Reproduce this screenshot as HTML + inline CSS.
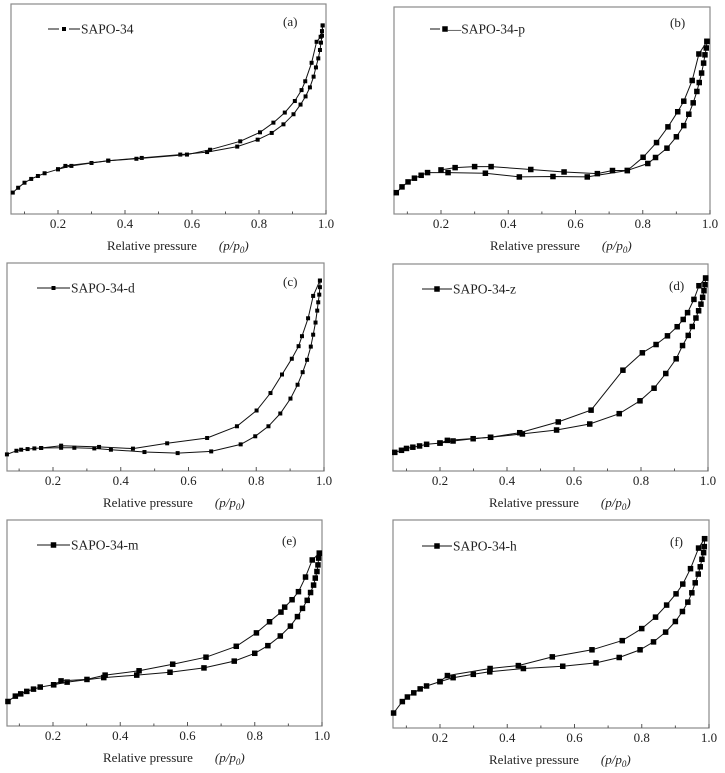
<!DOCTYPE html>
<html><head><meta charset="utf-8"><style>
html,body{margin:0;padding:0;background:#fff;}
svg{display:block;font-family:"Liberation Serif","DejaVu Serif",serif;}
svg text{font-family:"Liberation Serif","DejaVu Serif",serif;fill:#222;}
</style></head><body>
<svg id="fig" width="725" height="773" viewBox="0 0 725 773" font-family="Liberation Serif, serif" xmlns="http://www.w3.org/2000/svg"></svg>
<script>
// x values = relative pressure; y values = relative adsorbed amount (0-100 of plot height)
const aAdsX=[0.065,0.081,0.1,0.12,0.14,0.16,0.2,0.24,0.3,0.35,0.45,0.565,0.645,0.735,0.796,0.838,0.873,0.903,0.924,0.939,0.952,0.963,0.97,0.977,0.982,0.985,0.988,0.99];
const aAdsY=[10.2,12.5,14.9,16.7,18.1,19.4,21.3,22.9,24.3,25.4,26.7,28.3,29.5,32.1,35.4,38.6,42.7,47.5,52.1,56.0,60.3,65.4,69.8,74.1,78.1,81.6,84.9,89.8];
const aDesX=[0.99,0.988,0.984,0.972,0.957,0.938,0.927,0.907,0.877,0.843,0.803,0.744,0.654,0.585,0.434,0.35,0.222,0.2];
const aDesY=[89.8,87.1,84.4,82,72,63.2,59,53.8,48.3,43.5,38.9,34.6,30.6,28.3,26.3,25.4,22.9,21.3];

const bAdsX=[0.067,0.084,0.102,0.121,0.141,0.16,0.221,0.332,0.433,0.533,0.635,0.754,0.815,0.838,0.872,0.9,0.922,0.937,0.95,0.961,0.968,0.975,0.981,0.985,0.989,0.991];
const bAdsY=[10.3,13.1,15.5,17.3,18.7,20,20,19.7,17.9,18.1,17.9,21,24.4,27.3,31.8,37.3,42.7,48.2,53.7,59.2,63.5,68.1,72.9,76.9,80.2,83.4];
const bDesX=[0.991,0.967,0.947,0.922,0.904,0.875,0.841,0.801,0.754,0.71,0.665,0.566,0.467,0.349,0.3,0.242,0.2];
const bDesY=[83.4,77.3,64.5,54.5,49.4,42.1,34.5,27.4,21,21,19.5,20.3,21.5,22.9,22.9,22.4,21.3];

const cAdsX=[0.064,0.092,0.106,0.125,0.145,0.165,0.224,0.263,0.322,0.371,0.47,0.568,0.667,0.754,0.797,0.836,0.871,0.901,0.922,0.937,0.95,0.961,0.968,0.975,0.98,0.983,0.986,0.988,0.988];
const cAdsY=[7.8,9.5,10,10.3,10.6,10.8,10.9,10.9,10.6,10,8.9,8.4,9.2,12.5,16.3,21,27,34,40.5,46.4,52.2,58.4,64,69.7,75.3,79.2,82.8,86.3,89.4];
const cDesX=[0.988,0.968,0.953,0.935,0.925,0.905,0.876,0.842,0.801,0.743,0.655,0.537,0.436,0.336,0.224,0.165];
const cDesY=[89.4,82.2,71.7,63.3,58.6,52.7,45.3,36.6,28.4,21,15.5,13,10.5,11.3,11.9,10.8];

const dAdsX=[0.065,0.085,0.1,0.119,0.139,0.16,0.2,0.239,0.299,0.351,0.446,0.548,0.647,0.735,0.797,0.839,0.874,0.905,0.924,0.941,0.953,0.964,0.972,0.979,0.984,0.988,0.991,0.993];
const dAdsY=[9,10,10.9,11.5,12.1,12.9,13.5,14.5,15.6,16.3,17.9,19.8,22.7,27.7,33.9,40,47.1,54.2,60.6,65.5,69.8,73.9,77.4,80.6,83.9,87.1,90,93.2];
const dDesX=[0.993,0.973,0.958,0.939,0.926,0.908,0.879,0.845,0.804,0.746,0.651,0.553,0.438,0.351,0.222,0.2];
const dDesY=[93.2,89.5,82.9,76.5,73.2,69.7,65.3,61.1,57.1,48.7,29.4,23.7,18.5,16.3,14.8,13.5];

const eAdsX=[0.066,0.088,0.104,0.122,0.142,0.162,0.202,0.242,0.351,0.449,0.548,0.649,0.739,0.8,0.839,0.876,0.906,0.927,0.942,0.956,0.966,0.975,0.98,0.985,0.988,0.99,0.992];
const eAdsY=[11.9,14.5,15.6,16.8,17.9,18.9,20,21.3,23.5,24.7,26.1,28.2,31.5,35.3,39,43.7,48.5,53.1,57.1,61,64.8,68.4,71.8,75,78.2,81.5,83.9];
const eDesX=[0.992,0.971,0.951,0.93,0.911,0.889,0.878,0.844,0.805,0.745,0.655,0.556,0.456,0.355,0.301,0.224,0.202];
const eDesY=[83.9,80.6,72.3,65.2,61.3,57.7,55.3,50.6,45.2,38.7,33.4,30,26.8,24.7,22.6,21.9,20];

const fAdsX=[0.062,0.088,0.103,0.122,0.141,0.16,0.2,0.239,0.299,0.348,0.448,0.565,0.664,0.733,0.795,0.835,0.871,0.9,0.921,0.937,0.949,0.959,0.968,0.974,0.979,0.984,0.986,0.987];
const fAdsY=[7.2,12.7,14.9,16.9,18.8,20.2,22.3,24.2,25.8,27,28.6,29.7,31.3,33.9,37.6,41.4,46.1,51.2,56,60.5,65,69.8,74,77.5,81.1,84.3,87.2,91];
const fDesX=[0.987,0.969,0.945,0.922,0.902,0.874,0.841,0.8,0.742,0.652,0.534,0.433,0.349,0.222,0.2];
const fDesY=[91,86.5,76.6,69.2,64.5,59.1,53.3,47.8,42,37.6,34.2,30,28.6,25.2,22.3];

const tickLabels=["0.2","0.4","0.6","0.8","1.0"];
const tickValues=[0.2,0.4,0.6,0.8,1.0];
const minorValues=[0.1,0.3,0.5,0.7,0.9];

const NS="http://www.w3.org/2000/svg";
const FONT='"Liberation Serif", "DejaVu Serif", serif';
const svg=document.getElementById('fig');
function mk(tag,attrs,parent){const e=document.createElementNS(NS,tag);for(const k in attrs)e.setAttribute(k,attrs[k]);if(tag==='text'){e.setAttribute('font-family','Liberation Serif, serif');e.style.fontFamily=FONT;}(parent||svg).appendChild(e);return e;}

const panels=[
 {id:'a',L:11,R:326,T:4,B:214,dT:4,x02:58,x10:326,ms:4,lg:[48,80,29],tag:[283,26],ax:[aAdsX,aAdsY],de:[aDesX,aDesY],lgText:'SAPO-34',gap:true},
 {id:'b',L:394,R:710,T:7,B:214,dT:7,x02:441,x10:710,ms:5.5,lg:[430,460,29],tag:[670,27],ax:[bAdsX,bAdsY],de:[bDesX,bDesY],lgText:'—SAPO-34-p',gap:true},
 {id:'c',L:7,R:324,T:263,B:471,dT:258,x02:53,x10:324,ms:4,lg:[37,70,288],tag:[283,286],ax:[cAdsX,cAdsY],de:[cDesX,cDesY],lgText:'SAPO-34-d'},
 {id:'d',L:393,R:708,T:264,B:471,dT:264,x02:440,x10:708,ms:5.5,lg:[422,452,289],tag:[669,290],ax:[dAdsX,dAdsY],de:[dDesX,dDesY],lgText:'SAPO-34-z'},
 {id:'e',L:7,R:322,T:520,B:726,dT:520,x02:53,x10:322,ms:5.5,lg:[37,70,545],tag:[282,545],ax:[eAdsX,eAdsY],de:[eDesX,eDesY],lgText:'SAPO-34-m'},
 {id:'f',L:393,R:709,T:520,B:728,dT:520,x02:440,x10:709,ms:5.5,lg:[422,452,546],tag:[670,546],ax:[fAdsX,fAdsY],de:[fDesX,fDesY],lgText:'SAPO-34-h'}
];

panels.forEach(p=>{
  const g=mk('g',{});
  
  
  const sx=v=>p.x02+(v-0.2)/0.8*(p.x10-p.x02);
  const sy=v=>p.B-v/100*(p.B-p.dT);
  const fr=mk('rect',{x:p.L,y:p.T,width:p.R-p.L,height:p.B-p.T,fill:'none',stroke:'#8a8a8a','stroke-width':1.2},g);
  
  
  tickValues.forEach((v,i)=>{
    const x=sx(v);
    const t=mk('line',{x1:x,x2:x,y1:p.B,y2:p.B-4,stroke:'#555','stroke-width':1},g);
    
    
    const lb=mk('text',{x:x,y:p.B+14,'text-anchor':'middle','font-size':13},g);
    lb.textContent=tickLabels[i];
    
    
  });
  minorValues.forEach(v=>{
    const x=sx(v); if(x<p.L)return;
    const t=mk('line',{x1:x,x2:x,y1:p.B,y2:p.B-2.5,stroke:'#555','stroke-width':1},g);
    
    
  });
  const tt=mk('text',{x:p.L+96,y:p.B+36,'font-size':13},g);
  tt.innerHTML='Relative pressure<tspan dx="22" font-style="italic">(p/p</tspan><tspan font-style="italic" font-size="9" dy="3">0</tspan><tspan dy="-3" font-style="italic">)</tspan>';
  
  
  [[p.ax,'adsorption'],[p.de,'desorption']].forEach(([s,nm])=>{
    const pts=s[0].map((x,i)=>sx(x).toFixed(1)+','+sy(s[1][i]).toFixed(1)).join(' ');
    const pl=mk('polyline',{points:pts,fill:'none',stroke:'#111','stroke-width':1},g);
    
    
    s[0].forEach((x,i)=>{
      const r=mk('rect',{x:sx(x)-p.ms/2,y:sy(s[1][i])-p.ms/2,width:p.ms,height:p.ms,fill:'#000'},g);
      
      
    });
  });
  const [l1,l2,ly]=p.lg;
  const lgG=mk('g',{},g);
  
  
  const m=(l1+l2)/2;
  if(p.gap){
    mk('line',{x1:l1,x2:m-5,y1:ly,y2:ly,stroke:'#111','stroke-width':1},lgG);
    if(p.id==='a') mk('line',{x1:m+5,x2:l2,y1:ly,y2:ly,stroke:'#111','stroke-width':1},lgG);
  } else {
    mk('line',{x1:l1,x2:l2,y1:ly,y2:ly,stroke:'#111','stroke-width':1},lgG);
  }
  mk('rect',{x:m-p.ms/2,y:ly-p.ms/2,width:p.ms,height:p.ms,fill:'#000'},lgG);
  const lt=mk('text',{x:p.id==='b'?m+p.ms/2:l2+1,y:ly+4.5,'font-size':13.5},lgG);
  lt.textContent=p.lgText;
  const tg=mk('text',{x:p.tag[0],y:p.tag[1],'font-size':13},g);
  tg.textContent='('+p.id+')';
  
  
});
</script>
</body></html>
